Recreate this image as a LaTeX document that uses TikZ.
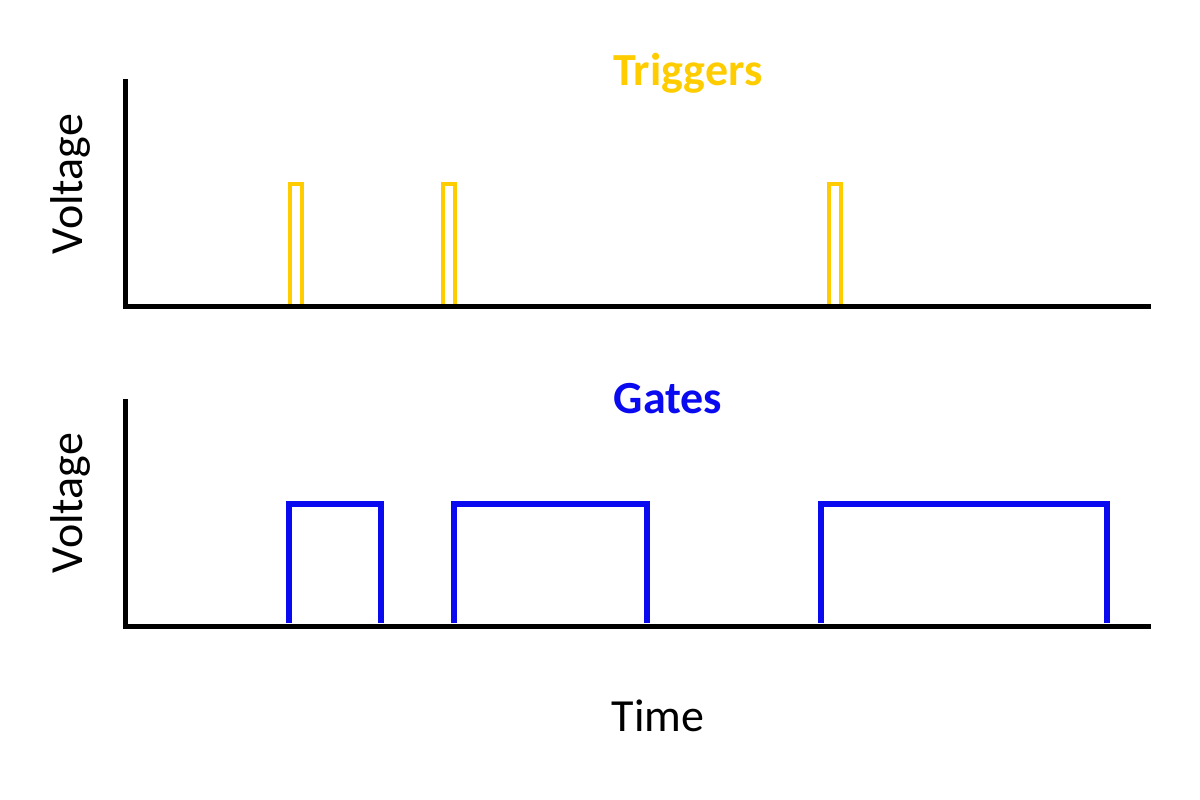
\documentclass[tikz,border=0pt]{standalone}
\usepackage{fontspec}
\setmainfont{Carlito}
\usetikzlibrary{positioning}
\definecolor{trig}{RGB}{255,204,0}
\definecolor{gate}{RGB}{10,10,240}
\begin{document}
\begin{tikzpicture}[x=1pt, y=-1pt,
    axis/.style={line width=5pt, line cap=rect},
    lbl/.style={font=\fontsize{46}{50}\selectfont}]
    \useasboundingbox (0,0) rectangle (1200,800);
    % axes
    \coordinate (top-orig) at (125,306);
    \coordinate (top-y)    at (125,82);
    \coordinate (top-x)    at (1148,306);
    \coordinate (bot-orig) at (125,626);
    \coordinate (bot-y)    at (125,401);
    \coordinate (bot-x)    at (1148,626);
    \draw [axis] (top-y) -- (top-orig) -- (top-x);
    \draw [axis] (bot-y) -- (bot-orig) -- (bot-x);
    % axis labels
    \node[lbl, rotate=90] (volt-top) at (70,184) {Voltage};
    \node[lbl, rotate=90] (volt-bot) at (70,503) {Voltage};
    \node[lbl] (time) at (658,716) {Time};
    % titles
    \node[lbl, font=\fontsize{46}{50}\selectfont\bfseries, text=trig] (triggers) at (688,73) {Triggers};
    \node[lbl, font=\fontsize{46}{50}\selectfont\bfseries, text=gate] (gates) at (668,399) {Gates};
    % trigger pulses
    \foreach \a/\b in {290/302, 443/455, 829/841}
    \draw [trig, line width=4pt] (\a,304) -- (\a,184) -- (\b,184) -- (\b,304);
    % gate pulses
    \foreach \a/\b in {289/381, 454/647, 821/1107}
    \draw [gate, line width=5.5pt] (\a,623) -- (\a,504) -- (\b,504) -- (\b,623);
\end{tikzpicture}
\end{document}
